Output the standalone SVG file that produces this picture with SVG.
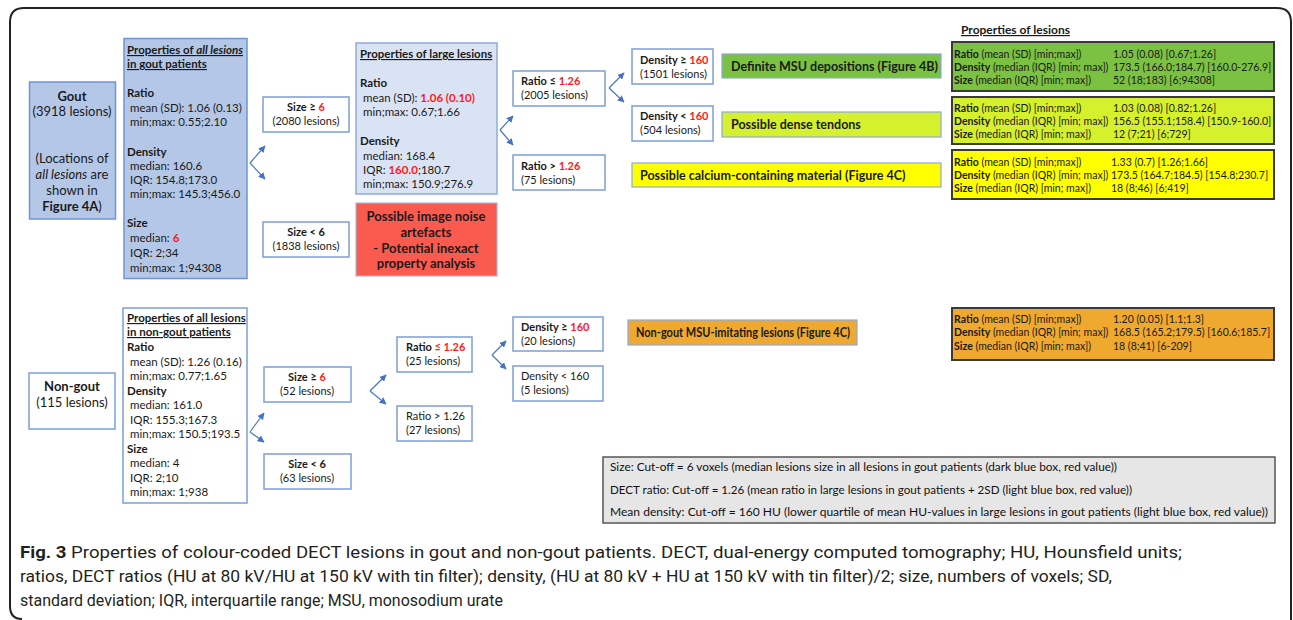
<svg xmlns="http://www.w3.org/2000/svg" width="1293" height="620" viewBox="0 0 1293 620">
<defs>
<marker id="ah" viewBox="0 0 10 10" refX="9" refY="5" markerWidth="7" markerHeight="7" markerUnits="userSpaceOnUse" orient="auto">
<path d="M0,0 L10,5 L0,10 z" fill="#4472c4"/>
</marker>
<style>
text{font-family:Lato,"Liberation Sans",sans-serif;fill:#1a1a1a;font-size:11.5px}
.b{font-weight:bold}
.r{fill:#ff1a1a;font-weight:bold}
.m{text-anchor:middle}
.u{text-decoration:underline}
.s{font-size:11px}
.t{font-size:10.5px}
.lg{font-size:12px;fill:#111}
.dk{fill:#b4c7e7;stroke:#6f94d8;stroke-width:1.5}
.wb{fill:#fff;stroke:#7c9fdc;stroke-width:1.5}
.lb{fill:#dae3f3;stroke:#8eaadb;stroke-width:1.5}
.tb{stroke:#3a3a3a;stroke-width:2}
.cn line{stroke:#4a78c8;stroke-width:1.2;marker-end:url(#ah)}
.cap{font-family:Roboto,"Liberation Sans",sans-serif;font-size:17px;fill:#231f20}
</style>
</defs>
<rect width="1293" height="620" fill="#fff"/>
<path d="M10,606 L10,22 Q10,8 24,8 L1277,8 Q1291,8 1291,22 L1291,620 M10,606 Q10,619 22,619" fill="none" stroke="#222" stroke-width="2"/>

<g id="gout">
<rect class="dk" x="29.5" y="82" width="86" height="137"/>
<text class="m b" x="72" y="101" style="font-size:13px">Gout</text>
<text class="m" x="72" y="116" style="font-size:13px">(3918 lesions)</text>
<text class="m" x="72" y="163" style="font-size:13px">(Locations of</text>
<text class="m" x="72" y="179" style="font-size:13px"><tspan font-style="italic">all lesions</tspan> are</text>
<text class="m" x="72" y="195" style="font-size:13px">shown in</text>
<text class="m" x="72" y="211" style="font-size:13px"><tspan font-weight="bold">Figure 4A</tspan>)</text>
</g>

<g id="gout-props">
<rect class="dk" x="124" y="38.5" width="123" height="240"/>
<text class="b u" x="127" y="54">Properties of <tspan font-style="italic">all lesions</tspan></text>
<text class="b u" x="127" y="68">in gout patients</text>
<text class="b" x="127" y="97">Ratio</text>
<text x="130" y="112">mean (SD): 1.06 (0.13)</text>
<text x="130" y="126">min;max: 0.55;2.10</text>
<text class="b" x="127" y="156">Density</text>
<text x="130" y="170">median: 160.6</text>
<text x="130" y="184">IQR: 154.8;173.0</text>
<text x="130" y="198">min;max: 145.3;456.0</text>
<text class="b" x="127" y="227">Size</text>
<text x="130" y="242">median: <tspan class="r">6</tspan></text>
<text x="130" y="257">IQR: 2;34</text>
<text x="130" y="272">min;max: 1;94308</text>
</g>

<g id="size-ge6-gout">
<rect class="wb" x="263" y="97" width="86" height="35"/>
<text class="m b s" x="306" y="111">Size ≥ <tspan class="r">6</tspan></text>
<text class="m s" x="306" y="125">(2080 lesions)</text>
</g>
<g id="size-lt6-gout">
<rect class="wb" x="263" y="222" width="86" height="35"/>
<text class="m b s" x="306" y="236">Size &lt; 6</text>
<text class="m s" x="306" y="250">(1838 lesions)</text>
</g>

<g id="large-props">
<rect class="lb" x="356" y="43" width="141" height="151"/>
<text class="b u" x="360" y="58">Properties of large lesions</text>
<text class="b" x="360" y="87">Ratio</text>
<text x="363" y="102">mean (SD): <tspan class="r">1.06 (0.10)</tspan></text>
<text x="363" y="116">min;max: 0.67;1.66</text>
<text class="b" x="360" y="145">Density</text>
<text x="363" y="160">median: 168.4</text>
<text x="363" y="174">IQR: <tspan class="r">160.0</tspan>;180.7</text>
<text x="363" y="188">min;max: 150.9;276.9</text>
</g>

<g id="noise">
<rect x="356" y="203" width="141" height="73" fill="#fb5a4f" stroke="#a9b5d6" stroke-width="1.2"/>
<text class="m b" x="426" y="221" style="font-size:13px">Possible image noise</text>
<text class="m b" x="426" y="237" style="font-size:13px">artefacts</text>
<text class="m b" x="426" y="253" style="font-size:13px">- Potential inexact</text>
<text class="m b" x="426" y="268" style="font-size:13px">property analysis</text>
</g>

<g id="ratio-le-gout">
<rect class="wb" x="513" y="71" width="92" height="35"/>
<text class="b s" x="521" y="85">Ratio ≤ <tspan class="r">1.26</tspan></text>
<text class="s" x="521" y="99">(2005 lesions)</text>
</g>
<g id="ratio-gt-gout">
<rect class="wb" x="513" y="155" width="92" height="35"/>
<text class="b s" x="521" y="170">Ratio &gt; <tspan class="r">1.26</tspan></text>
<text class="s" x="521" y="184">(75 lesions)</text>
</g>
<g id="dens-ge-gout">
<rect class="wb" x="632" y="49" width="81" height="35"/>
<text class="b s" x="640" y="64">Density ≥ <tspan class="r">160</tspan></text>
<text class="s" x="640" y="78">(1501 lesions)</text>
</g>
<g id="dens-lt-gout">
<rect class="wb" x="632" y="106" width="81" height="35"/>
<text class="b s" x="640" y="120">Density &lt; <tspan class="r">160</tspan></text>
<text class="s" x="640" y="134">(504 lesions)</text>
</g>

<g id="msu">
<rect x="722" y="54" width="219" height="24" fill="#7bc142" stroke="#8eaadb" stroke-width="1.2"/>
<text class="b" x="731" y="71" style="font-size:12.5px">Definite MSU depositions (Figure 4B)</text>
</g>
<g id="tendons">
<rect x="722" y="112" width="219" height="25" fill="#d5f02c" stroke="#8eaadb" stroke-width="1.2"/>
<text class="b" x="731" y="129" style="font-size:12.5px">Possible dense tendons</text>
</g>
<g id="calcium">
<rect x="632" y="163" width="309" height="24" fill="#ffff00" stroke="#8eaadb" stroke-width="1.2"/>
<text class="b" x="640" y="180" style="font-size:12.5px">Possible calcium-containing material (Figure 4C)</text>
</g>

<text class="b u" x="961" y="34" style="font-size:12px">Properties of lesions</text>

<g id="tab-msu">
<rect class="tb" x="952" y="42" width="322" height="49" fill="#7bc142"/>
<text class="t" x="954" y="58"><tspan font-weight="bold">Ratio</tspan> (mean (SD) [min;max])</text>
<text class="t" x="1113" y="58">1.05 (0.08) [0.67;1.26]</text>
<text class="t" x="954" y="71"><tspan font-weight="bold">Density</tspan> (median (IQR) [min; max])</text>
<text class="t" x="1113" y="71">173.5 (166.0;184.7) [160.0-276.9]</text>
<text class="t" x="954" y="84"><tspan font-weight="bold">Size</tspan> (median (IQR) [min; max])</text>
<text class="t" x="1113" y="84">52 (18;183) [6;94308]</text>
</g>
<g id="tab-tendons">
<rect class="tb" x="952" y="97" width="322" height="47" fill="#d5f02c"/>
<text class="t" x="954" y="112"><tspan font-weight="bold">Ratio</tspan> (mean (SD) [min;max])</text>
<text class="t" x="1113" y="112">1.03 (0.08) [0.82;1.26]</text>
<text class="t" x="954" y="125"><tspan font-weight="bold">Density</tspan> (median (IQR) [min; max])</text>
<text class="t" x="1113" y="125">156.5 (155.1;158.4) [150.9-160.0]</text>
<text class="t" x="954" y="138"><tspan font-weight="bold">Size</tspan> (median (IQR) [min; max])</text>
<text class="t" x="1113" y="138">12 (7;21) [6;729]</text>
</g>
<g id="tab-calcium">
<rect class="tb" x="952" y="150" width="322" height="49" fill="#ffff00"/>
<text class="t" x="954" y="166"><tspan font-weight="bold">Ratio</tspan> (mean (SD) [min;max])</text>
<text class="t" x="1111" y="166">1.33 (0.7) [1.26;1.66]</text>
<text class="t" x="954" y="179"><tspan font-weight="bold">Density</tspan> (median (IQR) [min; max])</text>
<text class="t" x="1111" y="179">173.5 (164.7;184.5) [154.8;230.7]</text>
<text class="t" x="954" y="192"><tspan font-weight="bold">Size</tspan> (median (IQR) [min; max])</text>
<text class="t" x="1111" y="192">18 (8;46) [6;419]</text>
</g>

<g id="nongout">
<rect class="wb" x="29" y="373" width="86" height="56"/>
<text class="m b" x="72" y="391" style="font-size:13px">Non-gout</text>
<text class="m" x="72" y="407" style="font-size:13px">(115 lesions)</text>
</g>
<g id="nongout-props">
<rect class="wb" x="123" y="308" width="124" height="195"/>
<text class="b u" x="127" y="322">Properties of all lesions</text>
<text class="b u" x="127" y="336">in non-gout patients</text>
<text class="b" x="127" y="351">Ratio</text>
<text x="130" y="366">mean (SD): 1.26 (0.16)</text>
<text x="130" y="380">min;max: 0.77;1.65</text>
<text class="b" x="127" y="395">Density</text>
<text x="130" y="409">median: 161.0</text>
<text x="130" y="424">IQR: 155.3;167.3</text>
<text x="130" y="438">min;max: 150.5;193.5</text>
<text class="b" x="127" y="453">Size</text>
<text x="130" y="467">median: 4</text>
<text x="130" y="482">IQR: 2;10</text>
<text x="130" y="496">min;max: 1;938</text>
</g>

<g id="size-ge6-ng">
<rect class="wb" x="264" y="367" width="87" height="35"/>
<text class="m b s" x="307" y="381">Size ≥ <tspan class="r">6</tspan></text>
<text class="m s" x="307" y="395">(52 lesions)</text>
</g>
<g id="size-lt6-ng">
<rect class="wb" x="264" y="454" width="87" height="35"/>
<text class="m b s" x="307" y="468">Size &lt; 6</text>
<text class="m s" x="307" y="482">(63 lesions)</text>
</g>
<g id="ratio-le-ng">
<rect class="wb" x="397" y="337" width="75" height="35"/>
<text class="b s" x="406" y="351">Ratio <tspan class="r">≤ 1.26</tspan></text>
<text class="s" x="406" y="365">(25 lesions)</text>
</g>
<g id="ratio-gt-ng">
<rect class="wb" x="397" y="406" width="75" height="35"/>
<text class="s" x="406" y="420">Ratio &gt; 1.26</text>
<text class="s" x="406" y="434">(27 lesions)</text>
</g>
<g id="dens-ge-ng">
<rect class="wb" x="513" y="317" width="90" height="34"/>
<text class="b s" x="521" y="331">Density ≥ <tspan class="r">160</tspan></text>
<text class="s" x="521" y="345">(20 lesions)</text>
</g>
<g id="dens-lt-ng">
<rect class="wb" x="513" y="366" width="90" height="35"/>
<text class="s" x="521" y="380">Density &lt; 160</text>
<text class="s" x="521" y="394">(5 lesions)</text>
</g>

<g id="nongout-msu">
<rect x="628" y="320" width="229" height="25" fill="#efa92f" stroke="#8eaadb" stroke-width="1.2"/>
<text class="b" x="636" y="337" style="font-size:12.5px" textLength="214" lengthAdjust="spacingAndGlyphs">Non-gout MSU-imitating lesions (Figure 4C)</text>
</g>
<g id="tab-nongout">
<rect class="tb" x="952" y="308" width="322" height="52" fill="#efa92f"/>
<text class="t" x="954" y="323"><tspan font-weight="bold">Ratio</tspan> (mean (SD) [min;max])</text>
<text class="t" x="1113" y="323">1.20 (0.05) [1.1;1.3]</text>
<text class="t" x="954" y="336"><tspan font-weight="bold">Density</tspan> (median (IQR) [min; max])</text>
<text class="t" x="1113" y="336">168.5 (165.2;179.5) [160.6;185.7]</text>
<text class="t" x="954" y="350"><tspan font-weight="bold">Size</tspan> (median (IQR) [min; max])</text>
<text class="t" x="1113" y="350">18 (8;41) [6-209]</text>
</g>

<g id="legend">
<rect x="603" y="457" width="672" height="66" fill="#e7e6e6" stroke="#555" stroke-width="1.5"/>
<text class="lg" x="610" y="471" textLength="507" lengthAdjust="spacingAndGlyphs">Size: Cut-off = 6 voxels (median lesions size in all lesions in gout patients  (dark blue box, red value))</text>
<text class="lg" x="610" y="494" textLength="522" lengthAdjust="spacingAndGlyphs">DECT ratio: Cut-off = 1.26 (mean ratio in large lesions in gout patients + 2SD  (light blue box, red value))</text>
<text class="lg" x="610" y="516" textLength="658" lengthAdjust="spacingAndGlyphs">Mean density: Cut-off = 160 HU (lower quartile of mean HU-values in large lesions in gout patients (light blue box, red value))</text>
</g>

<g id="connectors" class="cn">
<line x1="250" y1="163" x2="265" y2="146"/>
<line x1="250" y1="163" x2="265" y2="179"/>
<line x1="500" y1="130" x2="513" y2="116"/>
<line x1="500" y1="130" x2="513" y2="145"/>
<line x1="609" y1="88" x2="624" y2="73"/>
<line x1="609" y1="88" x2="624" y2="102"/>
<line x1="250" y1="432" x2="264" y2="413"/>
<line x1="250" y1="432" x2="264" y2="442"/>
<line x1="370" y1="391" x2="386" y2="375"/>
<line x1="370" y1="391" x2="386" y2="404"/>
<line x1="492" y1="355" x2="506" y2="341"/>
<line x1="492" y1="355" x2="506" y2="369"/>
</g>

<g id="caption">
<text class="cap" x="20" y="558" textLength="1162" lengthAdjust="spacingAndGlyphs"><tspan font-weight="bold">Fig. 3</tspan> Properties of colour-coded DECT lesions in gout and non-gout patients. DECT, dual-energy computed tomography; HU, Hounsfield units;</text>
<text class="cap" x="20" y="582" textLength="1092" lengthAdjust="spacingAndGlyphs">ratios, DECT ratios (HU at 80 kV/HU at 150 kV with tin filter); density, (HU at 80 kV + HU at 150 kV with tin filter)/2; size, numbers of voxels; SD,</text>
<text class="cap" x="20" y="606" textLength="483" lengthAdjust="spacingAndGlyphs">standard deviation; IQR, interquartile range; MSU, monosodium urate</text>
</g>
</svg>
